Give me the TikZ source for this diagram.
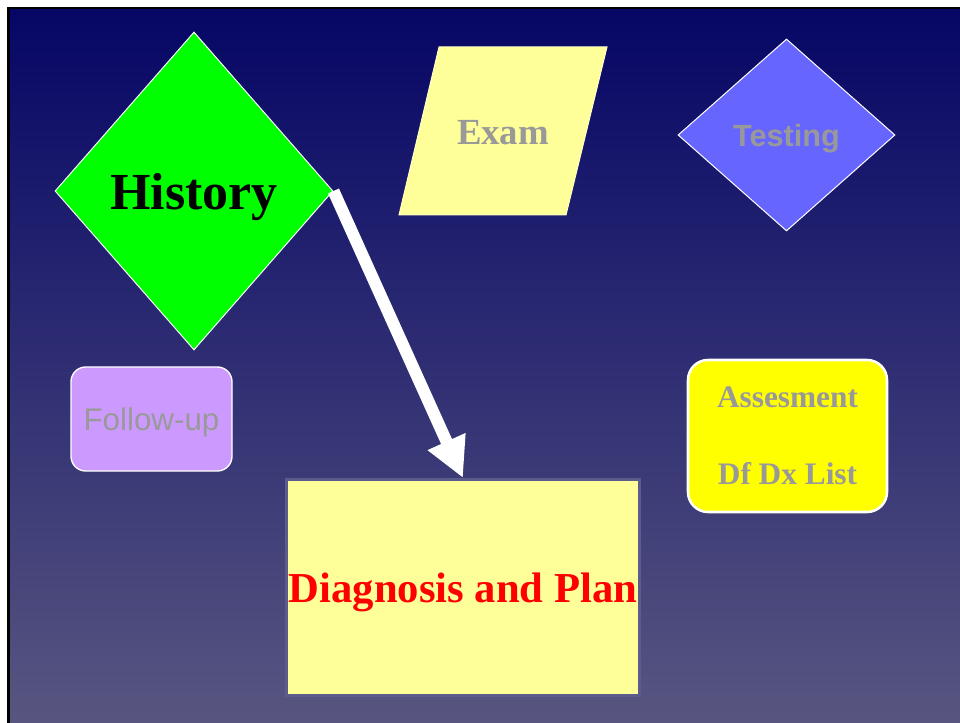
\documentclass[tikz,border=0pt]{standalone}
\usepackage{fontspec}
\setmainfont{Liberation Serif}
\setsansfont{Liberation Sans}
\usetikzlibrary{shapes.geometric,arrows.meta}
\definecolor{navytop}{RGB}{6,6,102}
\definecolor{navybot}{RGB}{88,86,128}
\definecolor{histgreen}{RGB}{0,255,0}
\definecolor{testblue}{RGB}{102,102,255}
\definecolor{paleyellow}{RGB}{255,255,153}
\definecolor{brightyellow}{RGB}{255,255,0}
\definecolor{lilac}{RGB}{204,153,255}
\definecolor{labelgrey}{RGB}{153,153,153}
\definecolor{planedge}{RGB}{92,92,140}
\newcommand{\pxu}{0.75pt}

\begin{document}
\begin{tikzpicture}[x=0.75pt, y=-0.75pt,
  shapebox/.style={draw=white, line width=0.75pt, inner sep=0pt, text depth=0pt},
  greylabel/.style={text=labelgrey},
  thickarrow/.style={white, line width=9pt, -{Triangle[length=30pt, width=29pt]}}]
  % background and frame
  \useasboundingbox (0,0) rectangle (960,723);
  \fill[white] (0,0) rectangle (960,723);
  \fill[black] (7,7) rectangle (960,723);
  \shade[top color=navytop, bottom color=navybot] (10,10) rectangle (960,723);
  % the shapes
  \node[shapebox, diamond, fill=histgreen, minimum width=278*\pxu, minimum height=318*\pxu,
    font=\fontsize{39}{47}\selectfont\bfseries] (history) at (194,191) {History};
  \filldraw[fill=paleyellow, draw=paleyellow!60!white, line width=0.75pt]
    (439,47) -- (607,47) -- (566,215) -- (399,215) -- cycle;
  \node[greylabel, font=\fontsize{27.6}{33}\selectfont\bfseries] (exam) at (503,133) {Exam};
  \node[shapebox, diamond, fill=testblue, minimum width=217*\pxu, minimum height=192*\pxu,
    greylabel, font=\fontsize{23}{28}\selectfont\sffamily\bfseries] (testing) at (786.5,135) {Testing};
  \node[shapebox, rectangle, rounded corners=11pt, fill=lilac, line width=1pt, minimum width=161*\pxu,
    minimum height=104*\pxu, greylabel, font=\fontsize{23.5}{28}\selectfont\sffamily] (followup) at (151.5,419) {Follow-up};
  \node[shapebox, rectangle, rounded corners=15pt, fill=brightyellow, line width=1.9pt, minimum width=199*\pxu,
    minimum height=152*\pxu, greylabel, align=center,
    font=\fontsize{23.5}{57.75}\selectfont\bfseries] (assess) at (787.5,436) {Assesment\\Df Dx List};
  \node[shapebox, rectangle, draw=planedge, line width=2.25pt, fill=paleyellow, minimum width=353*\pxu,
    minimum height=216*\pxu, text=red, font=\fontsize{32}{38}\selectfont\bfseries] (diag) at (463,587.5) {Diagnosis and Plan};
  % arrow
  \draw[thickarrow] (history.east) -- (diag.north);
\end{tikzpicture}
\end{document}
